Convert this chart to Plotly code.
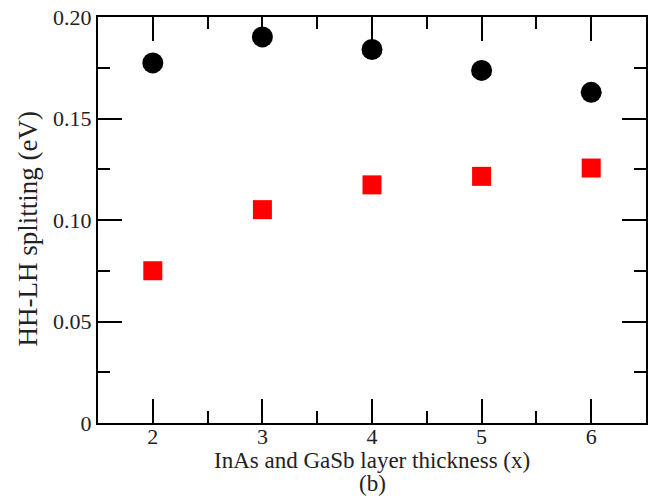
import plotly.graph_objects as go

x_vals = [2, 3, 4, 5, 6]
circle_y = [0.1774, 0.1902, 0.1840, 0.1737, 0.1629]
square_y = [0.0750, 0.1051, 0.1173, 0.1215, 0.1256]
y_tickvals = [0, 0.05, 0.10, 0.15, 0.20]
y_ticktext = ["0", "0.05", "0.10", "0.15", "0.20"]
x_tickvals = [2, 3, 4, 5, 6]
x_title = "InAs and GaSb layer thickness (x)"
x_sub = "(b)"
y_title = "HH-LH splitting (eV)"

FONT = "Liberation Serif, Times New Roman, serif"
TXT = "#222"

fig = go.Figure()
fig.add_trace(go.Scatter(x=x_vals, y=circle_y, mode="markers",
                         marker=dict(symbol="circle", size=21, color="black", line=dict(width=0)),
                         showlegend=False))
fig.add_trace(go.Scatter(x=x_vals, y=square_y, mode="markers",
                         marker=dict(symbol="square", size=19, color="#ff0000", line=dict(width=0)),
                         showlegend=False))

axis_common = dict(
    showgrid=False, zeroline=False, showline=True, linecolor="black", linewidth=2,
    mirror="ticks", ticks="inside", ticklen=24, tickwidth=2, tickcolor="black",
    tickfont=dict(family=FONT, size=22, color=TXT), automargin=False,
)
fig.update_xaxes(range=[1.5, 6.5], tickvals=x_tickvals, ticktext=[str(v) for v in x_tickvals],
                 ticklabelstandoff=-7,
                 minor=dict(ticks="inside", ticklen=12, tickwidth=2, tickcolor="black", dtick=0.5, tick0=1.5),
                 **axis_common)
fig.update_yaxes(range=[0, 0.2], tickvals=y_tickvals, ticktext=y_ticktext,
                 minor=dict(ticks="inside", ticklen=12, tickwidth=2, tickcolor="black", dtick=0.025, tick0=0),
                 **axis_common)

fig.add_annotation(text=x_title, xref="paper", yref="paper", x=0.5, y=-0.093,
                   xanchor="center", yanchor="middle", showarrow=False,
                   font=dict(family=FONT, size=23, color=TXT))
fig.add_annotation(text=x_sub, xref="paper", yref="paper", x=0.5, y=-0.150,
                   xanchor="center", yanchor="middle", showarrow=False,
                   font=dict(family=FONT, size=23, color=TXT))
fig.add_annotation(text=y_title, xref="paper", yref="paper", x=-0.128, y=0.479,
                   xanchor="center", yanchor="middle", textangle=-90, showarrow=False,
                   font=dict(family=FONT, size=27, color=TXT))

fig.update_layout(width=654, height=503, plot_bgcolor="white", paper_bgcolor="white",
                  margin=dict(l=98, r=8, t=17, b=80, autoexpand=False))
fig.write_html("out.html", config={"displayModeBar": False},
               post_script="document.body.style.margin='0';document.body.style.overflow='hidden';")
